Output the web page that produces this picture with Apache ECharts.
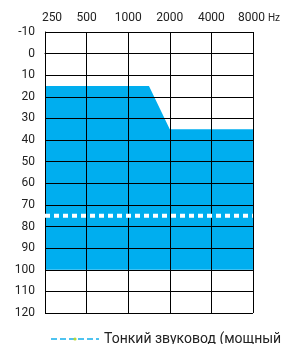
<!DOCTYPE html>
<html>
<head>
<meta charset="utf-8">
<script src="https://cdn.jsdelivr.net/npm/echarts@6/dist/echarts.min.js"></script>
<style>
  html, body { margin: 0; padding: 0; background: #fff; }
  #chart { width: 283px; height: 344px; }
</style>
</head>
<body>
<div id="chart"></div>
<script>
// frequency labels (Hz), one per vertical grid line
const freqLabels = ['250', '500', '1000', '2000', '4000', '8000'];
const freqUnit = 'Hz';
// fitting range: upper edge (dB) at x positions, lower edge at 100 dB
const rangeX = [0, 2.5, 3, 5];
const rangeUpper = [15, 15, 35, 35];
const rangeLower = 100;
// thin tube line (dB)
const tubeX = [0, 5];
const tubeLevel = [75, 75];

const chart = echarts.init(document.getElementById('chart'));
const font = 'Roboto, "Liberation Sans", sans-serif';

const option = {
    animation: false,
    textStyle: { fontFamily: font },
    grid: { left: 45, right: 29, top: 32, bottom: 31 },
    xAxis: {
        type: 'value',
        position: 'top',
        min: 0,
        max: 5,
        interval: 1,
        z: 5,
        axisLine: { show: true, lineStyle: { color: '#000', width: 1 } },
        axisTick: { show: false },
        splitLine: { show: true, lineStyle: { color: '#000', width: 1 } },
        axisLabel: {
            margin: 8,
            fontSize: 12,
            color: '#222',
            formatter: (v, i) => {
                if (i === 0) return '{a|' + freqLabels[0] + '}';
                if (i === freqLabels.length - 1) return '{b|' + freqLabels[i] + '}{hz|' + freqUnit + '}';
                return freqLabels[i];
            },
            rich: {
                a: { fontSize: 12, color: '#222', padding: [0, 0, 0, 14] },
                b: { fontSize: 12, color: '#222', padding: [0, 0, 0, 12] },
                hz: { fontSize: 10, color: '#222', padding: [0, 0, 0, 3] }
            }
        }
    },
    yAxis: {
        type: 'value',
        inverse: true,
        min: -10,
        max: 120,
        interval: 10,
        z: 5,
        axisLine: { show: true, lineStyle: { color: '#000', width: 1 } },
        axisTick: { show: false },
        splitLine: { show: true, lineStyle: { color: '#000', width: 1 } },
        axisLabel: { margin: 10, fontSize: 12, color: '#222' }
    },
    legend: {
        left: 45,
        top: 327,
        itemWidth: 48,
        itemHeight: 4,
        itemGap: 5,
        textStyle: { fontSize: 14, color: '#222' },
        lineStyle: { color: '#4ec3f0', width: 2, type: [6, 3] },
        data: ['Тонкий звуковод (мощный']
    },
    series: [
        {
            name: 'range',
            type: 'line',
            z: 1,
            symbol: 'none',
            lineStyle: { width: 0 },
            areaStyle: { color: '#00aeef', opacity: 1, origin: rangeLower },
            data: rangeX.map((x, i) => [x, rangeUpper[i]])
        },
        {
            name: 'Тонкий звуковод (мощный',
            type: 'line',
            z: 10,
            symbol: 'none',
            lineStyle: { color: '#fff', width: 4, type: [5, 4] },
            data: tubeX.map((x, i) => [x, tubeLevel[i]])
        }
    ]
};

chart.setOption(option);
</script>
</body>
</html>
